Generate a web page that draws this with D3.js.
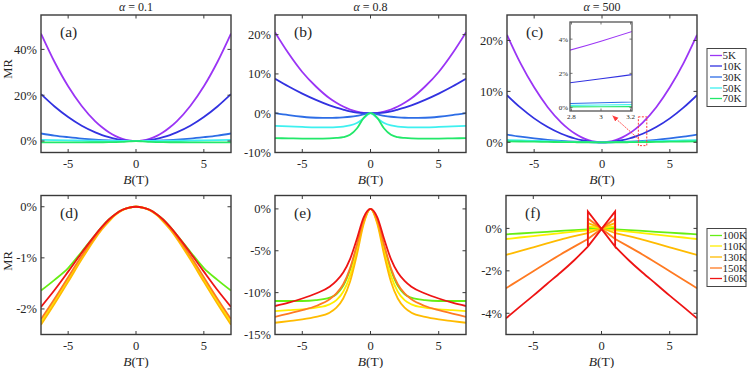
<!DOCTYPE html>
<html>
<head>
<meta charset="utf-8">
<script src="https://cdn.jsdelivr.net/npm/d3@7"></script>
<style>
  body { margin: 0; background: #fff; }
  svg { display: block; }
  text { font-family: "Liberation Serif", "DejaVu Serif", serif; fill: #262626; }
</style>
</head>
<body>
<svg id="fig" width="747" height="368"></svg>
<script>
// field sweep (T) used by panels a-e
const B = [-7, -6, -5, -4, -3, -2.5, -2, -1.5, -1, -0.5, 0, 0.5, 1, 1.5, 2, 2.5, 3, 4, 5, 6, 7];

const topTemps = ['5K', '10K', '30K', '50K', '70K'];
const botTemps = ['100K', '110K', '130K', '150K', '160K'];
const topColors = ['#9b35f5', '#3232e0', '#2d6de6', '#3ef0f0', '#22e86a'];
const botColors = ['#66ee14', '#ffee00', '#ffbb00', '#ff7a22', '#ee1414'];

// MR (%) — alpha = 0.1
const mrA = [
  [46.9, 34.5, 23.9, 15.3, 8.6, 6.0, 3.8, 2.15, 0.96, 0.24, 0, 0.24, 0.96, 2.15, 3.8, 6.0, 8.6, 15.3, 23.9, 34.5, 46.9],
  [20.5, 15.1, 10.5, 6.7, 3.8, 2.6, 1.67, 0.94, 0.42, 0.1, 0, 0.1, 0.42, 0.94, 1.67, 2.6, 3.8, 6.7, 10.5, 15.1, 20.5],
  [3.3, 2.4, 1.7, 1.08, 0.61, 0.42, 0.27, 0.15, 0.07, 0.02, 0, 0.02, 0.07, 0.15, 0.27, 0.42, 0.61, 1.08, 1.7, 2.4, 3.3],
  [0.55, 0.42, 0.3, 0.2, 0.12, 0.09, 0.06, 0.04, 0.02, 0.01, 0, 0.01, 0.02, 0.04, 0.06, 0.09, 0.12, 0.2, 0.3, 0.42, 0.55],
  [-0.55, -0.55, -0.55, -0.55, -0.53, -0.52, -0.5, -0.45, -0.35, -0.15, 0, -0.15, -0.35, -0.45, -0.5, -0.52, -0.53, -0.55, -0.55, -0.55, -0.55]
];
// alpha = 0.8
const mrB = [
  [20.6, 15.2, 10.5, 6.8, 3.8, 2.65, 1.7, 0.95, 0.42, 0.1, 0, 0.1, 0.42, 0.95, 1.7, 2.65, 3.8, 6.8, 10.5, 15.2, 20.6],
  [8.8, 6.8, 5.0, 3.4, 2.0, 1.4, 0.9, 0.45, 0.15, 0.02, 0, 0.02, 0.15, 0.45, 0.9, 1.4, 2.0, 3.4, 5.0, 6.8, 8.8],
  [0, -0.5, -0.9, -1.15, -1.2, -1.15, -1.05, -0.9, -0.65, -0.3, 0, -0.3, -0.65, -0.9, -1.05, -1.15, -1.2, -1.15, -0.9, -0.5, 0],
  [-3.2, -3.35, -3.5, -3.6, -3.6, -3.55, -3.4, -3.1, -2.5, -1.3, 0, -1.3, -2.5, -3.1, -3.4, -3.55, -3.6, -3.6, -3.5, -3.35, -3.2],
  [-6.35, -6.4, -6.45, -6.45, -6.4, -6.3, -6.1, -5.5, -3.9, -1.2, 0, -1.2, -3.9, -5.5, -6.1, -6.3, -6.4, -6.45, -6.45, -6.4, -6.35]
];
// alpha = 500
const mrC = [
  [21.1, 15.5, 10.8, 6.9, 3.88, 2.69, 1.72, 0.97, 0.43, 0.11, 0, 0.11, 0.43, 0.97, 1.72, 2.69, 3.88, 6.9, 10.8, 15.5, 21.1],
  [9.25, 6.8, 4.7, 3.0, 1.68, 1.17, 0.75, 0.42, 0.19, 0.05, 0, 0.05, 0.19, 0.42, 0.75, 1.17, 1.68, 3.0, 4.7, 6.8, 9.25],
  [1.5, 1.1, 0.77, 0.49, 0.28, 0.19, 0.12, 0.07, 0.03, 0.01, 0, 0.01, 0.03, 0.07, 0.12, 0.19, 0.28, 0.49, 0.77, 1.1, 1.5],
  [0.45, 0.37, 0.3, 0.24, 0.15, 0.1, 0.07, 0.04, 0.02, 0.005, 0, 0.005, 0.02, 0.04, 0.07, 0.1, 0.15, 0.24, 0.3, 0.37, 0.45],
  [0.2, 0.16, 0.12, 0.08, 0.05, 0.03, 0.02, 0.01, 0.01, 0, 0, 0, 0.01, 0.01, 0.02, 0.03, 0.05, 0.08, 0.12, 0.16, 0.2]
];
// alpha = 0.1, high T
const mrD = [
  [-1.64, -1.43, -1.2, -0.88, -0.55, -0.39, -0.25, -0.14, -0.06, -0.015, 0, -0.015, -0.06, -0.14, -0.25, -0.39, -0.55, -0.88, -1.2, -1.43, -1.64],
  [-2.26, -1.85, -1.43, -1.0, -0.6, -0.42, -0.27, -0.15, -0.065, -0.017, 0, -0.017, -0.065, -0.15, -0.27, -0.42, -0.6, -1.0, -1.43, -1.85, -2.26],
  [-2.31, -1.9, -1.47, -1.03, -0.62, -0.44, -0.29, -0.16, -0.07, -0.018, 0, -0.018, -0.07, -0.16, -0.29, -0.44, -0.62, -1.03, -1.47, -1.9, -2.31],
  [-2.2, -1.8, -1.38, -0.96, -0.58, -0.41, -0.26, -0.145, -0.062, -0.016, 0, -0.016, -0.062, -0.145, -0.26, -0.41, -0.58, -0.96, -1.38, -1.8, -2.2],
  [-1.96, -1.63, -1.27, -0.9, -0.55, -0.39, -0.25, -0.14, -0.06, -0.015, 0, -0.015, -0.06, -0.14, -0.25, -0.39, -0.55, -0.9, -1.27, -1.63, -1.96]
];
// alpha = 0.8, high T
const mrE = [
  [-11.0, -11.0, -11.0, -10.9, -10.6, -10.2, -9.2, -7.3, -4.5, -1.5, 0, -1.5, -4.5, -7.3, -9.2, -10.2, -10.6, -10.9, -11.0, -11.0, -11.0],
  [-12.2, -12.1, -12.0, -11.8, -11.4, -10.9, -9.9, -8.0, -5.0, -1.6, 0, -1.6, -5.0, -8.0, -9.9, -10.9, -11.4, -11.8, -12.0, -12.1, -12.2],
  [-13.6, -13.4, -13.2, -12.9, -12.4, -11.8, -10.7, -8.7, -5.5, -1.8, 0, -1.8, -5.5, -8.7, -10.7, -11.8, -12.4, -12.9, -13.2, -13.4, -13.6],
  [-12.9, -12.5, -12.1, -11.6, -10.8, -10.1, -9.0, -7.1, -4.3, -1.3, 0, -1.3, -4.3, -7.1, -9.0, -10.1, -10.8, -11.6, -12.1, -12.5, -12.9],
  [-11.6, -11.2, -10.7, -10.1, -9.3, -8.6, -7.6, -6.0, -3.6, -1.0, 0, -1.0, -3.6, -6.0, -7.6, -8.6, -9.3, -10.1, -10.7, -11.2, -11.6]
];
// alpha = 500, high T: outer branches (|B| >= 1) plus the jump height at |B| = 1
const fB = [-7, -6, -5, -4, -3, -2, -1, 1, 2, 3, 4, 5, 6, 7];
const mrF = [
  [-0.28, -0.24, -0.2, -0.16, -0.12, -0.08, -0.05, -0.05, -0.08, -0.12, -0.16, -0.2, -0.24, -0.28],
  [-0.5, -0.43, -0.36, -0.29, -0.22, -0.15, -0.09, -0.09, -0.15, -0.22, -0.29, -0.36, -0.43, -0.5],
  [-1.25, -1.07, -0.89, -0.71, -0.53, -0.37, -0.22, -0.22, -0.37, -0.53, -0.71, -0.89, -1.07, -1.25],
  [-2.82, -2.42, -2.02, -1.62, -1.23, -0.86, -0.5, -0.5, -0.86, -1.23, -1.62, -2.02, -2.42, -2.82],
  [-4.24, -3.7, -3.17, -2.62, -2.08, -1.5, -0.86, -0.86, -1.5, -2.08, -2.62, -3.17, -3.7, -4.24]
];
const tipF = [0.05, 0.1, 0.25, 0.47, 0.8];

const xTicks = [-5, 0, 5];

const svg = d3.select('#fig');
const defs = svg.append('defs');

function drawFrame(g, x, y, xt, yt, tickLen, opts) {
  const [x0, x1] = x.range();
  const [y1, y0] = y.range();
  const t = g.append('g').attr('stroke', opts.frame).attr('stroke-width', opts.tickW);
  xt.forEach(v => {
    t.append('line').attr('x1', x(v)).attr('x2', x(v)).attr('y1', y1).attr('y2', y1 - tickLen);
    t.append('line').attr('x1', x(v)).attr('x2', x(v)).attr('y1', y0).attr('y2', y0 + tickLen);
  });
  yt.forEach(v => {
    t.append('line').attr('x1', x0).attr('x2', x0 + tickLen).attr('y1', y(v)).attr('y2', y(v));
    t.append('line').attr('x1', x1).attr('x2', x1 - tickLen).attr('y1', y(v)).attr('y2', y(v));
  });
  g.append('rect')
    .attr('x', x0).attr('y', y0).attr('width', x1 - x0).attr('height', y1 - y0)
    .attr('fill', 'none').attr('stroke', opts.frame).attr('stroke-width', opts.frameW);
  g.selectAll('.xl').data(xt).enter().append('text')
    .attr('x', d => x(d)).attr('y', y1 + opts.xlOff)
    .attr('text-anchor', 'middle').attr('font-size', opts.fs)
    .text(d => opts.xfmt(d));
  g.selectAll('.yl').data(yt).enter().append('text')
    .attr('x', x0 - opts.ylOff).attr('y', d => y(d)).attr('dy', '0.35em')
    .attr('text-anchor', 'end').attr('font-size', opts.fs)
    .text(d => d + '%');
}

const mainOpts = { frame: '#3a3a3a', frameW: 1.4, tickW: 1, fs: 12.5, xlOff: 15, ylOff: 4, xfmt: d => String(d) };

function panel(p) {
  const g = svg.append('g');
  const x = d3.scaleLinear().domain([-7, 7]).range([p.x0, p.x1]);
  const y = d3.scaleLinear().domain(p.yd).range([p.y1, p.y0]);
  const clipId = 'clip-' + p.id;
  defs.append('clipPath').attr('id', clipId).append('rect')
    .attr('x', p.x0).attr('y', p.y0).attr('width', p.x1 - p.x0).attr('height', p.y1 - p.y0);
  const plot = g.append('g').attr('clip-path', `url(#${clipId})`);

  if (p.data) {
    const line = d3.line().x((d, i) => x(B[i])).y(d => y(d)).curve(d3.curveMonotoneX);
    p.data.forEach((s, k) => {
      plot.append('path').attr('d', line(s)).attr('fill', 'none')
        .attr('stroke', p.colors[k]).attr('stroke-width', 1.8);
    });
  } else {
    // panel f: two branches and the bowtie between -1 and 1 T
    const line = d3.line().x(d => x(d[0])).y(d => y(d[1])).curve(d3.curveMonotoneX);
    const poly = d3.line().x(d => x(d[0])).y(d => y(d[1]));
    mrF.forEach((s, k) => {
      const pts = s.map((v, i) => [fB[i], v]);
      const left = pts.filter(d => d[0] < 0);
      const right = pts.filter(d => d[0] > 0);
      const lo = s[fB.indexOf(-1)];
      const hi = tipF[k];
      const bow = [[-1, lo], [-1, hi], [1, lo], [1, hi], [-1, lo]];
      [line(left), line(right), poly(bow)].forEach(dd => {
        plot.append('path').attr('d', dd).attr('fill', 'none')
          .attr('stroke', botColors[k]).attr('stroke-width', 1.8).attr('stroke-linejoin', 'miter');
      });
    });
  }

  drawFrame(g, x, y, xTicks, p.yt, 3.5, mainOpts);

  // panel letter
  g.append('text').attr('x', p.x0 + 19).attr('y', p.y0 + 22)
    .attr('font-size', 15.5).text(`(${p.id})`);

  // x label
  const xl = g.append('text').attr('x', (p.x0 + p.x1) / 2).attr('y', p.y1 + 31)
    .attr('text-anchor', 'middle').attr('font-size', 13.5);
  xl.append('tspan').attr('font-style', 'italic').text('B');
  xl.append('tspan').text('(T)');

  if (p.title) {
    const tt = g.append('text').attr('x', (p.x0 + p.x1) / 2).attr('y', 11)
      .attr('text-anchor', 'middle').attr('font-size', 12);
    tt.append('tspan').attr('font-style', 'italic').text('α');
    tt.append('tspan').text(' = ' + p.title);
  }
  if (p.ylab) {
    g.append('text').attr('transform', `translate(12,${p.ylabY}) rotate(-90)`)
      .attr('text-anchor', 'middle').attr('font-size', 12.5).text('MR');
  }
  return { g, x, y };
}

const panels = [
  { id: 'a', x0: 41, x1: 231, y0: 15, y1: 152.5, yd: [-5, 55], yt: [0, 20, 40], data: mrA, colors: topColors, title: '0.1', ylab: true, ylabY: 69 },
  { id: 'b', x0: 275, x1: 466, y0: 15, y1: 152.5, yd: [-10, 25], yt: [-10, 0, 10, 20], data: mrB, colors: topColors, title: '0.8' },
  { id: 'c', x0: 507, x1: 697, y0: 15, y1: 152.5, yd: [-2, 25], yt: [0, 10, 20], data: mrC, colors: topColors, title: '500' },
  { id: 'd', x0: 41, x1: 231, y0: 195.5, y1: 334.5, yd: [-2.5, 0.22], yt: [-2, -1, 0], data: mrD, colors: botColors, ylab: true, ylabY: 261 },
  { id: 'e', x0: 275, x1: 466, y0: 195.5, y1: 334.5, yd: [-15, 1.6], yt: [-15, -10, -5, 0], data: mrE, colors: botColors },
  { id: 'f', x0: 506, x1: 697, y0: 195.5, y1: 334.5, yd: [-5, 1.55], yt: [-4, -2, 0], data: null, colors: botColors }
];

const drawn = panels.map(panel);

// inset and zoom box for panel c
const pc = drawn[2];
const zoomBox = { b0: 2.68, b1: 3.3, m0: -0.65, m1: 5 };
pc.g.append('rect')
  .attr('x', pc.x(zoomBox.b0)).attr('y', pc.y(zoomBox.m1))
  .attr('width', pc.x(zoomBox.b1) - pc.x(zoomBox.b0))
  .attr('height', pc.y(zoomBox.m0) - pc.y(zoomBox.m1))
  .attr('fill', 'none').attr('stroke', '#ff3b3b').attr('stroke-width', 1).attr('stroke-dasharray', '2,1.5');

const ins = { x0: 570, x1: 632, y0: 22, y1: 111 };
const xi = d3.scaleLinear().domain([2.79, 3.21]).range([ins.x0, ins.x1]);
const yi = d3.scaleLinear().domain([-0.2, 5]).range([ins.y1, ins.y0]);
const ig = svg.append('g');
ig.append('rect').attr('x', ins.x0).attr('y', ins.y0).attr('width', ins.x1 - ins.x0).attr('height', ins.y1 - ins.y0).attr('fill', '#fff');
defs.append('clipPath').attr('id', 'clip-inset').append('rect')
  .attr('x', ins.x0).attr('y', ins.y0).attr('width', ins.x1 - ins.x0).attr('height', ins.y1 - ins.y0);
const iplot = ig.append('g').attr('clip-path', 'url(#clip-inset)');
const iline = d3.line().x((d, i) => xi(B[i])).y(d => yi(d)).curve(d3.curveMonotoneX);
mrC.forEach((s, k) => {
  iplot.append('path').attr('d', iline(s)).attr('fill', 'none')
    .attr('stroke', topColors[k]).attr('stroke-width', 1.1);
});
drawFrame(ig, xi, yi, [2.8, 3, 3.2], [0, 2, 4], 2.5,
  { frame: '#555', frameW: 1.3, tickW: 0.8, fs: 7, xlOff: 8, ylOff: 2, xfmt: d => String(d) });

// arrow from zoom box to inset
defs.append('marker').attr('id', 'arrow').attr('viewBox', '0 0 10 10')
  .attr('refX', 9).attr('refY', 5).attr('markerWidth', 6).attr('markerHeight', 6)
  .attr('orient', 'auto')
  .append('path').attr('d', 'M0,1 L10,5 L0,9 Z').attr('fill', '#ff3b3b');
svg.append('line')
  .attr('x1', pc.x(zoomBox.b0) + 1).attr('y1', pc.y(0.5))
  .attr('x2', xi(3.08)).attr('y2', ins.y1 + 5)
  .attr('stroke', '#ff3b3b').attr('stroke-width', 1).attr('stroke-dasharray', '1.5,1')
  .attr('marker-end', 'url(#arrow)');

// legends
function legend(x0, y0, w, h, labels, colors, rowY) {
  const g = svg.append('g');
  g.append('rect').attr('x', x0).attr('y', y0).attr('width', w).attr('height', h)
    .attr('fill', '#fff').attr('stroke', '#444').attr('stroke-width', 1);
  labels.forEach((lab, i) => {
    const yy = y0 + rowY[i];
    g.append('line').attr('x1', x0 + 3).attr('x2', x0 + 15).attr('y1', yy).attr('y2', yy)
      .attr('stroke', colors[i]).attr('stroke-width', 1.3);
    g.append('text').attr('x', x0 + 15.5).attr('y', yy).attr('dy', '0.35em')
      .attr('font-size', 11).text(lab);
  });
}
const legendRows = [7, 17.5, 28.5, 39.5, 50];
legend(707, 48.5, 39, 58, topTemps, topColors, legendRows);
legend(707, 228.5, 39, 58, botTemps, botColors, legendRows);
</script>
</body>
</html>
